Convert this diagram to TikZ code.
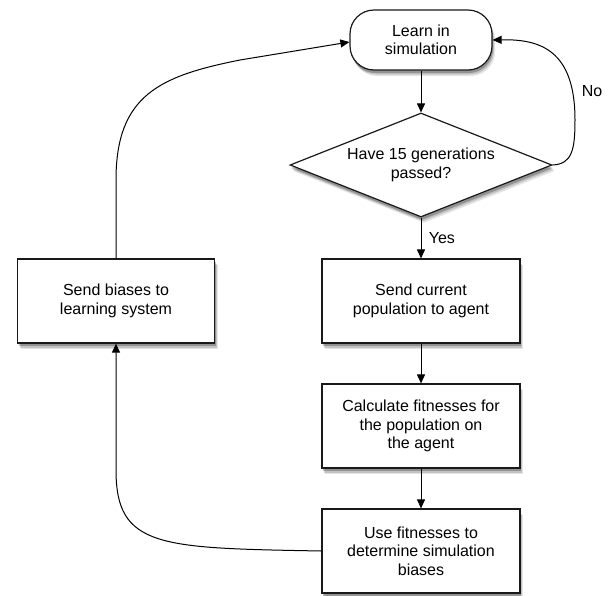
\documentclass[tikz,border=0pt]{standalone}
\usepackage{fontspec}
\setmainfont{Liberation Sans}
\usetikzlibrary{shapes.geometric,arrows.meta,shadows}
\begin{document}
\begin{tikzpicture}[x=1pt,y=-1pt,
  every node/.style={font=\fontsize{16}{18.5}\selectfont},
  shad/.style={drop shadow={shadow xshift=3pt,shadow yshift=-6pt,opacity=.10,fill=black},
               drop shadow={shadow xshift=2pt,shadow yshift=-4.5pt,opacity=.15,fill=black},
               drop shadow={shadow xshift=1pt,shadow yshift=-3pt,opacity=.25,fill=black}},
  box/.style={draw=black!90, line width=1.2pt, fill=white, align=center,
    minimum width=198pt, minimum height=84pt, inner sep=0pt, shad},
  term/.style={box, rounded corners=24pt, minimum width=142pt, minimum height=60pt},
  decision/.style={diamond, draw=black!90, line width=1.2pt, fill=white, align=center,
    aspect=2.52, inner sep=0pt, minimum width=262pt, minimum height=104pt, shad},
  arr/.style={-{Triangle[length=9pt,width=8pt]}, line width=1pt},
  lbl/.style={font=\fontsize{16}{18.5}\selectfont}
]
\useasboundingbox (0,0) rectangle (608,595);

\node[term] (L) at (421,40) {Learn in\\simulation};
\node[decision] (D) at (421,165) {Have 15 generations\\passed?};
\node[box] (S1) at (421,301) {Send current\\population to agent};
\node[box] (C) at (421,426) {Calculate fitnesses for\\the population on\\the agent};
\node[box] (U) at (421,551) {Use fitnesses to\\determine simulation\\biases};
\node[box, minimum width=197pt] (B) at (116,301) {Send biases to\\learning system};

\draw[arr] (L) -- (D);
\draw[arr] (D) -- node[lbl, midway, anchor=west, xshift=4pt] (yes) {Yes} (S1);
\draw[arr] (S1) -- (C);
\draw[arr] (C) -- (U);
\draw[arr] (U.west) .. controls (160,548) and (116,548) .. (116,470) -- (B.south);
\draw[arr] (B.north) -- (116,180) .. controls (116,95) and (160,76) .. (240,60) -- ([yshift=-2pt]L.west);
\draw[arr] (D.east) .. controls (572,164) and (575,150) .. (575,120) .. controls (575,50) and (540,39) .. (L.east);
\node[lbl] (no) at (592,91) {No};
\end{tikzpicture}
\end{document}
